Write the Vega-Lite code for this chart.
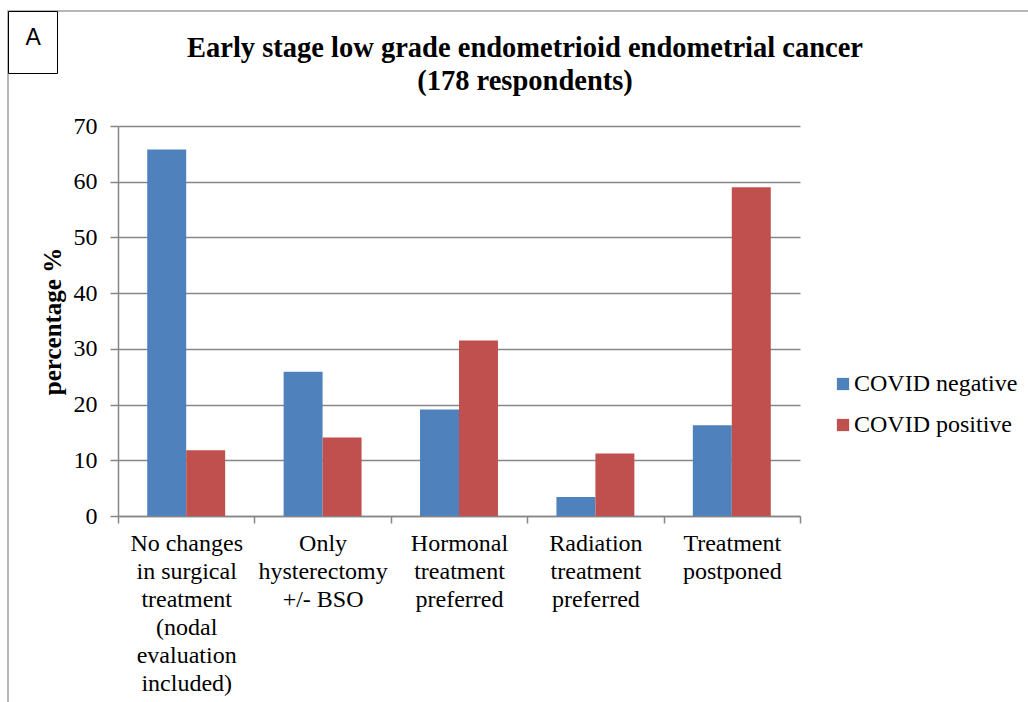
{
  "$schema": "https://vega.github.io/schema/vega-lite/v6.json",
  "autosize": {"type": "none"},
  "padding": {"left": 118, "top": 126, "right": 228, "bottom": 186},
  "width": 682,
  "height": 390,
  "background": "white",
  "title": {
    "text": ["Early stage low grade endometrioid endometrial cancer", "(178 respondents)"],
    "font": "Liberation Serif", "fontSize": 28.5, "fontWeight": "bold", "lineHeight": 33,
    "color": "#000000", "anchor": "middle", "dx": 66, "offset": 0, "dy": 85
  },
  "data": {"values": [
    {"panel": "A", "category": "No changes in surgical treatment (nodal evaluation included)", "group": "COVID negative", "value": 65.8},
    {"panel": "A", "category": "No changes in surgical treatment (nodal evaluation included)", "group": "COVID positive", "value": 11.8},
    {"panel": "A", "category": "Only hysterectomy +/- BSO", "group": "COVID negative", "value": 25.9},
    {"panel": "A", "category": "Only hysterectomy +/- BSO", "group": "COVID positive", "value": 14.1},
    {"panel": "A", "category": "Hormonal treatment preferred", "group": "COVID negative", "value": 19.1},
    {"panel": "A", "category": "Hormonal treatment preferred", "group": "COVID positive", "value": 31.5},
    {"panel": "A", "category": "Radiation treatment preferred", "group": "COVID negative", "value": 3.4},
    {"panel": "A", "category": "Radiation treatment preferred", "group": "COVID positive", "value": 11.2},
    {"panel": "A", "category": "Treatment postponed", "group": "COVID negative", "value": 16.3},
    {"panel": "A", "category": "Treatment postponed", "group": "COVID positive", "value": 59.0}
  ]},
  "mark": {"type": "bar", "strokeWidth": 0},
  "encoding": {
    "x": {
      "field": "category", "type": "nominal", "sort": null,
      "scale": {"paddingInner": 0, "paddingOuter": 0},
      "axis": {
        "title": null, "labelAngle": 0, "tickBand": "extent",
        "labelFont": "Liberation Serif", "labelFontSize": 24, "labelColor": "#000000",
        "labelLineHeight": 28, "labelPadding": 8, "labelLimit": 0,
        "domainColor": "#868686", "domainWidth": 1.5, "tickColor": "#868686", "tickWidth": 1.5, "tickSize": 7,
        "labelExpr": "datum.value == 'No changes in surgical treatment (nodal evaluation included)' ? ['No changes', 'in surgical', 'treatment', '(nodal', 'evaluation', 'included)'] : datum.value == 'Only hysterectomy +/- BSO' ? ['Only', 'hysterectomy', '+/- BSO'] : datum.value == 'Hormonal treatment preferred' ? ['Hormonal', 'treatment', 'preferred'] : datum.value == 'Radiation treatment preferred' ? ['Radiation', 'treatment', 'preferred'] : datum.value == 'Treatment postponed' ? ['Treatment', 'postponed'] : ''"
      }
    },
    "xOffset": {"field": "group", "type": "nominal", "scale": {"paddingInner": 0, "paddingOuter": 0.75}},
    "y": {
      "field": "value", "type": "quantitative",
      "scale": {"domain": [0, 70]},
      "axis": {
        "title": "percentage %", "titleFont": "Liberation Serif", "titleFontSize": 25, "titleFontWeight": "bold", "titleColor": "#000000", "titlePadding": 8,
        "values": [0, 10, 20, 30, 40, 50, 60, 70],
        "labelFont": "Liberation Serif", "labelFontSize": 24, "labelColor": "#000000", "labelPadding": 13,
        "gridColor": "#868686", "gridWidth": 1.5,
        "domainColor": "#868686", "domainWidth": 1.5, "tickColor": "#868686", "tickWidth": 1.5, "tickSize": 8
      }
    },
    "color": {
      "field": "group", "type": "nominal",
      "scale": {"domain": ["COVID negative", "COVID positive"], "range": ["#4F81BD", "#C0504D"]},
      "legend": {
        "title": null, "orient": "none", "legendX": 713, "legendY": 246,
        "symbolType": "square", "symbolSize": 150, "symbolStrokeWidth": 0,
        "labelFont": "Liberation Serif", "labelFontSize": 24, "labelColor": "#000000", "labelLimit": 400,
        "rowPadding": 17, "labelOffset": -1, "padding": 0
      }
    },
    "strokeDash": {
      "field": "panel", "type": "nominal",
      "legend": {
        "title": " ", "titleOrient": "bottom", "titleFontSize": 5, "titlePadding": 2,
        "orient": "none", "legendX": -110, "legendY": -115,
        "strokeColor": "#000000", "padding": 15.5,
        "symbolType": "circle", "symbolSize": 1, "symbolOpacity": 0, "symbolStrokeWidth": 0, "labelOffset": -21,
        "labelFont": "Liberation Sans", "labelFontSize": 23, "labelColor": "#000000"
      }
    },
    "stroke": {
      "field": "value", "type": "quantitative",
      "scale": {"range": ["rgba(255,255,255,0)", "rgba(255,255,255,0)"]},
      "legend": {
        "title": null, "orient": "none", "legendX": -110, "legendY": -115, "direction": "horizontal",
        "padding": 0, "gradientLength": 1100, "gradientThickness": 800,
        "gradientStrokeColor": "#a0a0a0", "gradientStrokeWidth": 1.5,
        "labelExpr": "''"
      }
    }
  },
  "config": {"view": {"stroke": null}}
}
